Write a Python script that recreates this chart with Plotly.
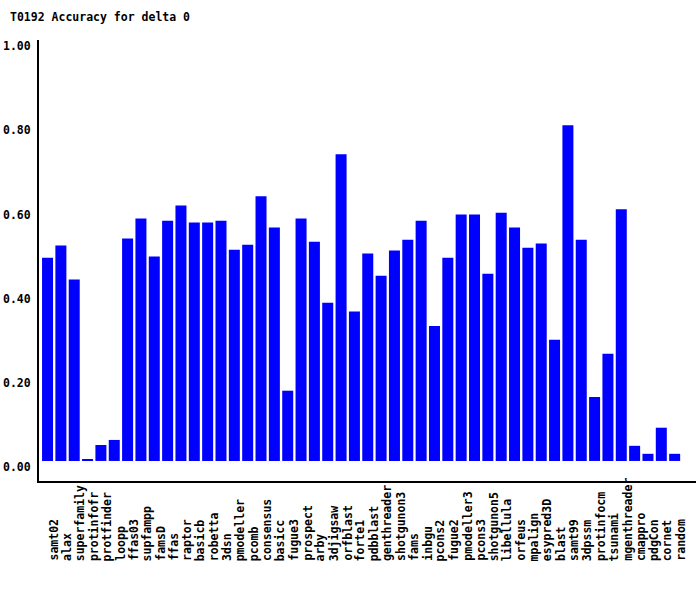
import plotly.graph_objects as go

categories = ["samt02", "alax", "superfamily", "protinfofr", "protfinder", "loopp", "ffas03",
              "supfampp", "famsD", "ffas", "raptor", "basicb", "robetta", "3dsn", "pmodeller",
              "pcomb", "consensus", "basicc", "fugue3", "prospect", "arby", "3djigsaw",
              "orfblast", "forte1", "pdbblast", "genthreader", "shotgunon3", "fams", "inbgu",
              "pcons2", "fugue2", "pmodeller3", "pcons3", "shotgunon5", "libellula", "orfeus",
              "mpalign", "esypred3D", "blast", "samt99", "3dpssm", "protinfocm", "tsunami",
              "mgenthreader", "cmappro", "pdgCon", "cornet", "random"]

accuracy = [0.483, 0.512, 0.431, 0.003, 0.038, 0.050, 0.529,
            0.576, 0.486, 0.571, 0.607, 0.567, 0.567, 0.571, 0.502,
            0.514, 0.629, 0.555, 0.167, 0.576, 0.521, 0.376,
            0.729, 0.355, 0.493, 0.440, 0.500, 0.526, 0.571,
            0.321, 0.483, 0.586, 0.586, 0.445, 0.590, 0.555,
            0.507, 0.517, 0.288, 0.798, 0.526, 0.152, 0.255,
            0.598, 0.036, 0.017, 0.079, 0.017]

y_ticks = [0.0, 0.2, 0.4, 0.6, 0.8, 1.0]
title_text = "T0192 Accuracy for delta 0"

FONT = "DejaVu Sans Mono"
fsize = 11.5

fig = go.Figure()
fig.add_trace(go.Bar(x=categories, y=accuracy, marker=dict(color="#0000FF", line=dict(width=0)),
                     hoverinfo="x+y"))

for c in categories:
    fig.add_annotation(x=c, xref="x", y=-82 / 441, yref="paper", text=c, textangle=-90,
                       showarrow=False, xanchor="center", yanchor="bottom", xshift=6,
                       font=dict(family=FONT, size=fsize, color="black", weight="bold"))

fig.update_layout(
    width=700, height=590,
    margin=dict(l=39, r=4, t=40, b=109, autoexpand=False),
    paper_bgcolor="white", plot_bgcolor="white",
    bargap=0.175,
    showlegend=False,
    title=dict(text=title_text, x=10 / 700, xref="container", xanchor="left",
               y=1 - 17 / 590, yref="container", yanchor="middle", automargin=False,
               font=dict(family=FONT, size=fsize, color="black", weight="bold")),
)
fig.update_xaxes(type="category", range=[-0.64, 48.6], showticklabels=False, showgrid=False,
                 zeroline=False, showline=True, linecolor="black", linewidth=2, ticks="",
                 automargin=False)
fig.update_yaxes(range=[-20 / 420, 1.0005], tickvals=y_ticks, tickformat=".2f", showgrid=False,
                 zeroline=False, showline=True, linecolor="black", linewidth=2, ticks="",
                 ticklabelshift=6, ticklabelstandoff=4, automargin=False,
                 tickfont=dict(family=FONT, size=fsize, color="black", weight="bold"))

fig.write_html("out.html", config={"displayModeBar": False},
               post_script="document.body.style.margin='0';")
